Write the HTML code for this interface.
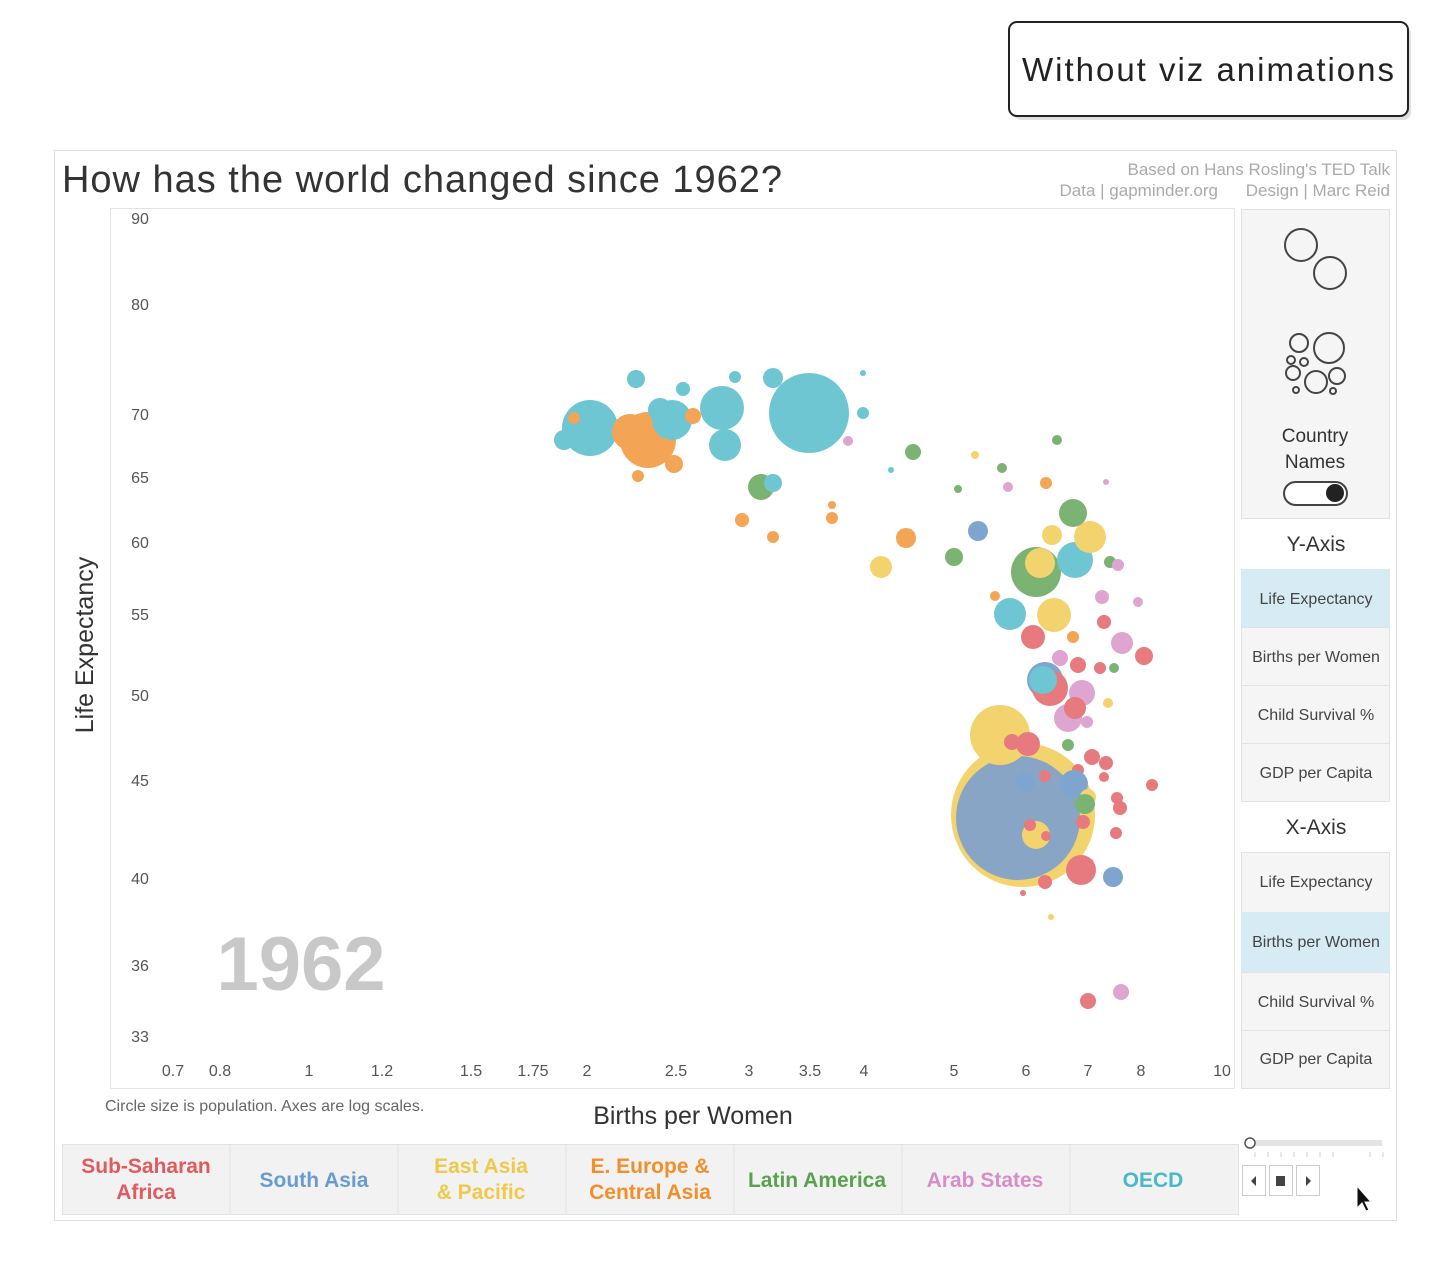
<!DOCTYPE html>
<html><head><meta charset="utf-8"><style>
body{margin:0;background:#fff;width:1450px;height:1280px;overflow:hidden;font-family:"Liberation Sans",sans-serif}
</style></head><body>
<svg width="1450" height="1280" xmlns="http://www.w3.org/2000/svg" font-family="Liberation Sans, sans-serif">
<rect x="0" y="0" width="1450" height="1280" fill="#fff"/>
<rect x="1013" y="26" width="398" height="94" rx="8" fill="#ccc" opacity="0.6"/>
<rect x="1009" y="22" width="399" height="94" rx="8" fill="#fff" stroke="#222" stroke-width="2"/>
<text x="1208" y="81" font-size="33" text-anchor="middle" fill="#222" textLength="372">Without viz animations</text>
<rect x="54.5" y="150.5" width="1342" height="1070" fill="#fff" stroke="#ddd"/>
<text x="62" y="192" font-size="38" fill="#333" textLength="720">How has the world changed since 1962?</text>
<text x="1390" y="175" font-size="17" fill="#aaa" text-anchor="end">Based on Hans Rosling's TED Talk</text>
<text x="1218" y="196" font-size="17" fill="#aaa" text-anchor="end">Data | gapminder.org</text>
<text x="1390" y="196" font-size="17" fill="#aaa" text-anchor="end">Design | Marc Reid</text>
<rect x="110.5" y="208.5" width="1124" height="880" fill="#fff" stroke="#e4e4e4"/>
<g font-size="16" fill="#555" text-anchor="middle">
<text x="140" y="224">90</text><text x="140" y="310">80</text><text x="140" y="420">70</text><text x="140" y="483">65</text><text x="140" y="548">60</text><text x="140" y="620">55</text><text x="140" y="701">50</text><text x="140" y="786">45</text><text x="140" y="884">40</text><text x="140" y="971">36</text><text x="140" y="1042">33</text>
<text x="173" y="1076">0.7</text><text x="220" y="1076">0.8</text><text x="309" y="1076">1</text><text x="382" y="1076">1.2</text><text x="471" y="1076">1.5</text><text x="533" y="1076">1.75</text><text x="587" y="1076">2</text><text x="676" y="1076">2.5</text><text x="749" y="1076">3</text><text x="810" y="1076">3.5</text><text x="864" y="1076">4</text><text x="954" y="1076">5</text><text x="1026" y="1076">6</text><text x="1088" y="1076">7</text><text x="1141" y="1076">8</text><text x="1222" y="1076">10</text>
</g>
<text transform="translate(93,645) rotate(-90)" font-size="25" fill="#333" text-anchor="middle">Life Expectancy</text>
<text x="301" y="990" font-size="76" font-weight="bold" fill="#c8c8c8" text-anchor="middle">1962</text>
<text x="105" y="1111" font-size="16" fill="#666">Circle size is population.  Axes are log scales.</text>
<text x="693" y="1124" font-size="25" fill="#333" text-anchor="middle">Births per Women</text>
<g opacity="0.8">
<circle cx="1023" cy="815" r="72" fill="#f0c94a"/>
<circle cx="1018" cy="818" r="62" fill="#6b8fb8"/>
<circle cx="1000" cy="735" r="30" fill="#f0c94a"/>
<circle cx="809" cy="413" r="40" fill="#4ab8c8"/>
<circle cx="590" cy="428" r="28" fill="#4ab8c8"/>
<circle cx="648" cy="440" r="28" fill="#f28e2b"/>
<circle cx="630" cy="432" r="18" fill="#f28e2b"/>
<circle cx="722" cy="408" r="22" fill="#4ab8c8"/>
<circle cx="672" cy="420" r="20" fill="#4ab8c8"/>
<circle cx="725" cy="445" r="16" fill="#4ab8c8"/>
<circle cx="660" cy="410" r="12" fill="#4ab8c8"/>
<circle cx="564" cy="440" r="10" fill="#4ab8c8"/>
<circle cx="636" cy="379" r="9" fill="#4ab8c8"/>
<circle cx="773" cy="378" r="10" fill="#4ab8c8"/>
<circle cx="683" cy="389" r="7" fill="#4ab8c8"/>
<circle cx="735" cy="377" r="6" fill="#4ab8c8"/>
<circle cx="834" cy="400" r="12" fill="#4ab8c8"/>
<circle cx="863" cy="413" r="6" fill="#4ab8c8"/>
<circle cx="674" cy="464" r="9" fill="#f28e2b"/>
<circle cx="693" cy="416" r="8" fill="#f28e2b"/>
<circle cx="638" cy="476" r="6" fill="#f28e2b"/>
<circle cx="574" cy="418" r="6" fill="#f28e2b"/>
<circle cx="848" cy="441" r="5" fill="#d68fc6"/>
<circle cx="913" cy="452" r="8" fill="#59a14f"/>
<circle cx="1057" cy="440" r="5" fill="#59a14f"/>
<circle cx="761" cy="487" r="13" fill="#59a14f"/>
<circle cx="773" cy="483" r="9" fill="#4ab8c8"/>
<circle cx="742" cy="520" r="7" fill="#f28e2b"/>
<circle cx="773" cy="537" r="6" fill="#f28e2b"/>
<circle cx="832" cy="518" r="6" fill="#f28e2b"/>
<circle cx="832" cy="505" r="4" fill="#f28e2b"/>
<circle cx="906" cy="538" r="10" fill="#f28e2b"/>
<circle cx="881" cy="567" r="11" fill="#f0c94a"/>
<circle cx="954" cy="557" r="9" fill="#59a14f"/>
<circle cx="978" cy="531" r="10" fill="#5f8fc5"/>
<circle cx="975" cy="455" r="4" fill="#f0c94a"/>
<circle cx="1002" cy="468" r="5" fill="#59a14f"/>
<circle cx="958" cy="489" r="4" fill="#59a14f"/>
<circle cx="1008" cy="487" r="5" fill="#d68fc6"/>
<circle cx="1046" cy="483" r="6" fill="#f28e2b"/>
<circle cx="1036" cy="572" r="25" fill="#59a14f"/>
<circle cx="1040" cy="563" r="15" fill="#f0c94a"/>
<circle cx="1075" cy="560" r="18" fill="#4ab8c8"/>
<circle cx="1090" cy="537" r="16" fill="#f0c94a"/>
<circle cx="1073" cy="513" r="14" fill="#59a14f"/>
<circle cx="1052" cy="535" r="10" fill="#f0c94a"/>
<circle cx="1110" cy="562" r="6" fill="#59a14f"/>
<circle cx="1118" cy="565" r="6" fill="#d68fc6"/>
<circle cx="1010" cy="614" r="16" fill="#4ab8c8"/>
<circle cx="1054" cy="615" r="17" fill="#f0c94a"/>
<circle cx="1033" cy="637" r="12" fill="#e05a5e"/>
<circle cx="995" cy="596" r="5" fill="#f28e2b"/>
<circle cx="1102" cy="597" r="7" fill="#d68fc6"/>
<circle cx="1104" cy="622" r="7" fill="#e05a5e"/>
<circle cx="1122" cy="643" r="11" fill="#d68fc6"/>
<circle cx="1144" cy="656" r="9" fill="#e05a5e"/>
<circle cx="1138" cy="602" r="5" fill="#d68fc6"/>
<circle cx="1073" cy="637" r="6" fill="#f28e2b"/>
<circle cx="1060" cy="658" r="8" fill="#d68fc6"/>
<circle cx="1078" cy="665" r="8" fill="#e05a5e"/>
<circle cx="1100" cy="668" r="6" fill="#e05a5e"/>
<circle cx="1045" cy="680" r="18" fill="#5f8fc5"/>
<circle cx="1050" cy="688" r="18" fill="#e05a5e"/>
<circle cx="1043" cy="680" r="14" fill="#4ab8c8"/>
<circle cx="1082" cy="693" r="13" fill="#d68fc6"/>
<circle cx="1068" cy="718" r="14" fill="#d68fc6"/>
<circle cx="1075" cy="708" r="11" fill="#e05a5e"/>
<circle cx="1087" cy="722" r="6" fill="#d68fc6"/>
<circle cx="1108" cy="703" r="5" fill="#f0c94a"/>
<circle cx="1114" cy="668" r="5" fill="#59a14f"/>
<circle cx="1028" cy="744" r="12" fill="#e05a5e"/>
<circle cx="1012" cy="742" r="8" fill="#e05a5e"/>
<circle cx="1068" cy="745" r="6" fill="#59a14f"/>
<circle cx="1092" cy="757" r="8" fill="#e05a5e"/>
<circle cx="1106" cy="763" r="7" fill="#e05a5e"/>
<circle cx="1078" cy="770" r="6" fill="#e05a5e"/>
<circle cx="1074" cy="784" r="14" fill="#5f8fc5"/>
<circle cx="1088" cy="797" r="8" fill="#f0c94a"/>
<circle cx="1085" cy="804" r="10" fill="#59a14f"/>
<circle cx="1117" cy="798" r="6" fill="#e05a5e"/>
<circle cx="1120" cy="808" r="7" fill="#e05a5e"/>
<circle cx="1104" cy="777" r="5" fill="#e05a5e"/>
<circle cx="1152" cy="785" r="6" fill="#e05a5e"/>
<circle cx="1083" cy="822" r="7" fill="#e05a5e"/>
<circle cx="1116" cy="833" r="6" fill="#e05a5e"/>
<circle cx="1025" cy="782" r="10" fill="#5f8fc5"/>
<circle cx="1045" cy="776" r="6" fill="#e05a5e"/>
<circle cx="1036" cy="835" r="14" fill="#f0c94a"/>
<circle cx="1030" cy="825" r="6" fill="#e05a5e"/>
<circle cx="1046" cy="836" r="5" fill="#e05a5e"/>
<circle cx="1081" cy="870" r="15" fill="#e05a5e"/>
<circle cx="1088" cy="864" r="6" fill="#e05a5e"/>
<circle cx="1113" cy="877" r="10" fill="#5f8fc5"/>
<circle cx="1045" cy="882" r="7" fill="#e05a5e"/>
<circle cx="1023" cy="893" r="3" fill="#e05a5e"/>
<circle cx="1051" cy="917" r="3" fill="#f0c94a"/>
<circle cx="1088" cy="1001" r="8" fill="#e05a5e"/>
<circle cx="1121" cy="992" r="8" fill="#d68fc6"/>
<circle cx="1106" cy="482" r="3" fill="#d68fc6"/>
<circle cx="891" cy="470" r="3" fill="#4ab8c8"/>
<circle cx="863" cy="373" r="3" fill="#4ab8c8"/>
</g>
<rect x="1241.5" y="209.5" width="148" height="309" fill="#f5f5f5" stroke="#e2e2e2"/>
<g fill="none" stroke="#444" stroke-width="2">
<circle cx="1301" cy="245" r="16"/><circle cx="1330" cy="273" r="16"/>
<circle cx="1329" cy="348" r="15"/><circle cx="1299" cy="343" r="9"/>
<circle cx="1291" cy="360" r="4"/><circle cx="1304" cy="362" r="4"/>
<circle cx="1293" cy="373" r="7"/><circle cx="1316" cy="382" r="11"/>
<circle cx="1337" cy="376" r="8"/><circle cx="1296" cy="390" r="3"/><circle cx="1333" cy="391" r="3"/>
</g>
<text x="1315" y="442" font-size="19" fill="#333" text-anchor="middle">Country</text>
<text x="1315" y="468" font-size="19" fill="#333" text-anchor="middle">Names</text>
<rect x="1284" y="482" width="63" height="23" rx="11.5" fill="#fff" stroke="#444" stroke-width="2"/>
<circle cx="1335" cy="493" r="9" fill="#222"/>
<text x="1316" y="551" font-size="21" fill="#333" text-anchor="middle">Y-Axis</text>
<g font-size="16" fill="#444" text-anchor="middle">
<rect x="1241" y="569" width="149" height="58" fill="#d6ebf3"/>
<rect x="1241.5" y="627.5" width="148" height="58" fill="#f5f5f5" stroke="#e2e2e2"/>
<rect x="1241.5" y="685.5" width="148" height="58" fill="#f5f5f5" stroke="#e2e2e2"/>
<rect x="1241.5" y="743.5" width="148" height="58" fill="#f5f5f5" stroke="#e2e2e2"/>
<text x="1316" y="604">Life Expectancy</text><text x="1316" y="662">Births per Women</text><text x="1316" y="720">Child Survival %</text><text x="1316" y="778">GDP per Capita</text>
</g>
<text x="1316" y="834" font-size="21" fill="#333" text-anchor="middle">X-Axis</text>
<g font-size="16" fill="#444" text-anchor="middle">
<rect x="1241.5" y="852.5" width="148" height="60" fill="#f5f5f5" stroke="#e2e2e2"/>
<rect x="1241" y="912" width="149" height="60" fill="#d6ebf3"/>
<rect x="1241.5" y="972.5" width="148" height="58" fill="#f5f5f5" stroke="#e2e2e2"/>
<rect x="1241.5" y="1030.5" width="148" height="58" fill="#f5f5f5" stroke="#e2e2e2"/>
<text x="1316" y="887">Life Expectancy</text><text x="1316" y="947">Births per Women</text><text x="1316" y="1007">Child Survival %</text><text x="1316" y="1064">GDP per Capita</text>
</g>
<rect x="1250" y="1140" width="132" height="6" fill="#e4e4e4"/>
<circle cx="1250" cy="1143" r="5" fill="#fff" stroke="#555" stroke-width="1.5"/>
<g stroke="#ccc"><line x1="1255" y1="1152" x2="1255" y2="1157"/><line x1="1268" y1="1152" x2="1268" y2="1157"/><line x1="1281" y1="1152" x2="1281" y2="1157"/><line x1="1294" y1="1152" x2="1294" y2="1157"/><line x1="1307" y1="1152" x2="1307" y2="1157"/><line x1="1320" y1="1152" x2="1320" y2="1157"/><line x1="1333" y1="1152" x2="1333" y2="1157"/><line x1="1370" y1="1152" x2="1370" y2="1157"/><line x1="1383" y1="1152" x2="1383" y2="1157"/></g>
<rect x="1242.5" y="1165.5" width="23" height="30" fill="#fff" stroke="#ccc"/>
<rect x="1269.5" y="1165.5" width="23" height="30" fill="#fff" stroke="#ccc"/>
<rect x="1296.5" y="1165.5" width="23" height="30" fill="#fff" stroke="#ccc"/>
<path d="M1256 1176 l-5 5 l5 5z" fill="#444"/><rect x="1276" y="1176" width="9" height="10" fill="#444"/><path d="M1306 1176 l5 5 l-5 5z" fill="#444"/>
<path d="M1357 1186 l0 22 l5 -5 l4 8 l3 -1 l-4 -8 l6 0z" fill="#111" stroke="#fff"/>
<rect x="62.5" y="1144.5" width="1176" height="70" fill="#f2f2f2" stroke="#e2e2e2"/>
<g stroke="#e2e2e2"><line x1="230" y1="1145" x2="230" y2="1214"/><line x1="398" y1="1145" x2="398" y2="1214"/><line x1="566" y1="1145" x2="566" y2="1214"/><line x1="734" y1="1145" x2="734" y2="1214"/><line x1="902" y1="1145" x2="902" y2="1214"/><line x1="1070" y1="1145" x2="1070" y2="1214"/></g>
<g font-size="21" font-weight="bold" text-anchor="middle">
<text x="146" y="1173" fill="#e05a5e">Sub-Saharan</text><text x="146" y="1199" fill="#e05a5e">Africa</text>
<text x="314" y="1187" fill="#6a9bd0">South Asia</text>
<text x="481" y="1173" fill="#f0c94a">East Asia</text><text x="481" y="1199" fill="#f0c94a">&amp; Pacific</text>
<text x="650" y="1173" fill="#f28e2b">E. Europe &amp;</text><text x="650" y="1199" fill="#f28e2b">Central Asia</text>
<text x="817" y="1187" fill="#59a14f">Latin America</text>
<text x="985" y="1187" fill="#d68fc6">Arab States</text>
<text x="1153" y="1187" fill="#4ab8c8">OECD</text>
</g>
</svg>
</body></html>
